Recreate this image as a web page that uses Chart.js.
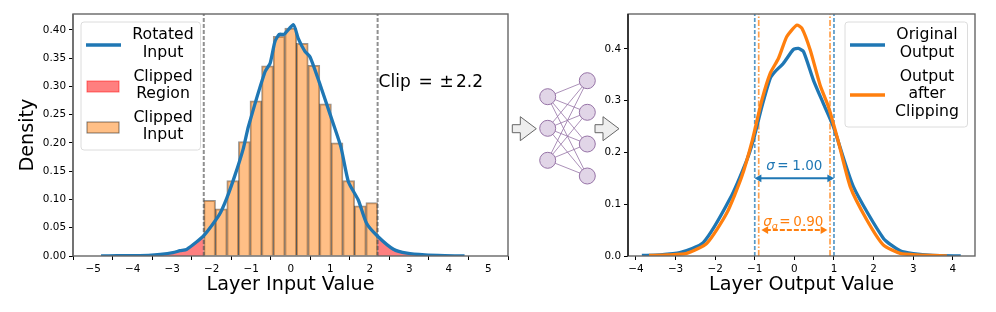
<!DOCTYPE html>
<html>
<head>
<meta charset="utf-8">
<script src="https://cdn.jsdelivr.net/npm/chart.js@4"></script>
<style>
  html, body { margin: 0; padding: 0; background: #fff; }
  #page { position: relative; width: 996px; height: 312px; overflow: hidden; }
  canvas, svg { position: absolute; top: 0; }
  #inputChart { left: 0; }
  #outputChart { left: 600px; }
  #net { left: 505px; }
</style>
</head>
<body>
<div id="page">
  <canvas id="inputChart" width="520" height="312"></canvas>
  <svg id="net" width="120" height="312"></svg>
  <canvas id="outputChart" width="396" height="312"></canvas>
</div>
<script>
const binCenters = [-2.053, -1.76, -1.467, -1.173, -0.88, -0.587, -0.293, 0, 0.293, 0.587, 0.88, 1.173, 1.467, 1.76, 2.053];
const binDensity = [0.098, 0.083, 0.133, 0.202, 0.274, 0.336, 0.388, 0.403, 0.376, 0.337, 0.269, 0.2, 0.133, 0.0885, 0.094];

const inputX = [-4.8, -4.4, -4, -3.6, -3.3, -2.98, -2.8, -2.63, -2.2, -1.81, -1.62, -1.41, -1.2, -1.07, -0.65, -0.52, -0.4, -0.29, -0.17, 0.07, 0.19, 0.36, 0.49, 0.72, 1.0, 1.27, 1.46, 1.71, 1.92, 2.2, 2.6, 2.94, 3.4, 3.9, 4.4];
const inputY = [0.0002, 0.0004, 0.0007, 0.0012, 0.0027, 0.0058, 0.0094, 0.0118, 0.036, 0.0726, 0.102, 0.143, 0.19, 0.229, 0.326, 0.341, 0.379, 0.392, 0.392, 0.409, 0.385, 0.362, 0.352, 0.308, 0.25, 0.193, 0.1315, 0.099, 0.058, 0.035, 0.012, 0.005, 0.0018, 0.0006, 0.0002];

const outBlueX = [-3.85, -3.4, -2.89, -2.3, -1.62, -1.2, -1.035, -0.82, -0.61, -0.49, -0.28, -0.025, 0.1, 0.23, 0.48, 0.73, 0.985, 1.49, 2.25, 2.67, 3, 3.5, 4.2];
const outBlueY = [0.001, 0.002, 0.0064, 0.0258, 0.1114, 0.1855, 0.224, 0.2886, 0.343, 0.356, 0.372, 0.399, 0.401, 0.395, 0.34, 0.295, 0.25, 0.134, 0.034, 0.01, 0.0045, 0.0012, 0.0002];

const outOrangeX = [-3.67, -3.2, -2.72, -2.21, -1.71, -1.33, -1.06, -0.82, -0.61, -0.4, -0.19, 0.06, 0.19, 0.4, 0.65, 0.86, 1.1, 1.41, 1.83, 2.25, 2.67, 3.1, 3.85];
const outOrangeY = [0.001, 0.002, 0.005, 0.0245, 0.0824, 0.153, 0.224, 0.3014, 0.353, 0.382, 0.424, 0.446, 0.44, 0.398, 0.33, 0.2886, 0.224, 0.134, 0.0696, 0.021, 0.005, 0.002, 0.0002];

const clipLimits = [-2.2, 2.2];
const sigmaLimits = [-1, 1];
const sigmaClipLimits = [-0.9, 0.9];
const sigmaArrow = [-0.89, 0.89];
const sigmaClipArrow = [-0.72, 0.72];

const inputXTicks = [-5, -4, -3, -2, -1, 0, 1, 2, 3, 4, 5];
const inputYTicks = [0, 0.05, 0.1, 0.15, 0.2, 0.25, 0.3, 0.35, 0.4];
const outputXTicks = [-4, -3, -2, -1, 0, 1, 2, 3, 4];
const outputYTicks = [0, 0.1, 0.2, 0.3, 0.4];

const BLUE = "#1f77b4";
const ORANGE = "#ff7f0e";
const FONT = "'DejaVu Sans'";

Chart.defaults.font.family = FONT;
Chart.defaults.color = "#000";

const zip = (xs, ys) => xs.map((x, i) => ({ x: x, y: ys[i] }));
const minus = (s) => String(s).replace("-", "\u2212");

// frame all round the axes, matplotlib style
function frame(leftColor) {
  return {
    id: "frame",
    afterDatasetsDraw(chart) {
      const a = chart.chartArea;
      const c = chart.ctx;
      c.save();
      c.strokeStyle = "#666";
      c.lineWidth = 1.4;
      c.strokeRect(a.left, a.top, a.right - a.left, a.bottom - a.top);
      c.strokeStyle = leftColor;
      c.beginPath();
      c.moveTo(a.left, a.top);
      c.lineTo(a.left, a.bottom);
      c.stroke();
      c.restore();
    },
  };
}

// legend sits inside the axes, so it is drawn here
function boxLegend(box, textX, items) {
  return {
    id: "boxLegend",
    afterDraw(chart) {
      const c = chart.ctx;
      c.save();
      c.beginPath();
      c.roundRect(box.x, box.y, box.w, box.h, 3);
      c.fillStyle = "rgba(255,255,255,0.8)";
      c.fill();
      c.strokeStyle = "#dcdcdc";
      c.lineWidth = 1;
      c.stroke();
      c.font = "15.7px " + FONT;
      c.textAlign = "center";
      c.textBaseline = "middle";
      c.fillStyle = "#000";
      items.forEach((it) => {
        it.lines.forEach((t, i) => c.fillText(t, textX, it.top + i * 17.7));
        if (it.patch) {
          c.fillStyle = it.patch;
          c.strokeStyle = it.edge;
          c.lineWidth = 1;
          c.fillRect(box.x + 6, it.handleY - 5.5, 32, 11);
          c.strokeRect(box.x + 6, it.handleY - 5.5, 32, 11);
          c.fillStyle = "#000";
        } else {
          c.strokeStyle = it.line;
          c.lineWidth = 3.5;
          c.beginPath();
          c.moveTo(box.x + 5, it.handleY);
          c.lineTo(box.x + 40, it.handleY);
          c.stroke();
        }
      });
      c.restore();
    },
  };
}

function axes(xMin, xMax, yMax, xTicks, yTicks, xTitle, yTitle, yWidth, yDigits) {
  return {
    x: {
      type: "linear",
      min: xMin,
      max: xMax,
      offset: false,
      afterFit: (s) => { s.height = 56; },
      afterBuildTicks: (s) => { s.ticks = xTicks.map((v) => ({ value: v })); },
      grid: { drawOnChartArea: false, drawTicks: true, tickLength: 4, color: "#000" },
      border: { display: false },
      ticks: { font: { size: 10.4 }, padding: 3, maxRotation: 0, autoSkip: false, callback: (v) => minus(v) },
      title: { display: true, text: xTitle, font: { size: 19.2 }, padding: { top: 0, bottom: 15 } },
    },
    y: {
      min: 0,
      max: yMax,
      afterFit: (s) => { s.width = yWidth; },
      afterBuildTicks: (s) => { s.ticks = yTicks.map((v) => ({ value: v })); },
      grid: { drawOnChartArea: false, drawTicks: true, tickLength: 4, color: "#000" },
      border: { display: false },
      ticks: { font: { size: 10.4 }, padding: 3, autoSkip: false, callback: (v) => v.toFixed(yDigits) },
      title: { display: !!yTitle, text: yTitle, font: { size: 19.2 }, padding: { top: 16, bottom: 0 } },
    },
  };
}

const inputMax = 0.428;
const inputLabels = {
  id: "inputLabels",
  afterDraw(chart) {
    const c = chart.ctx;
    c.save();
    c.font = "17px " + FONT;
    c.fillStyle = "#000";
    c.textBaseline = "alphabetic";
    c.fillText("Clip", chart.scales.x.getPixelForValue(2.2) + 1, 87);
    c.fillText("=", 418.5, 87);
    c.fillText("\u00b1", 439.5, 87);
    c.fillText("2.2", 456, 87);
    c.restore();
  },
};

new Chart(document.getElementById("inputChart"), {
  data: {
    datasets: [
      {
        type: "bar",
        data: zip(binCenters, binDensity),
        backgroundColor: "rgba(255,127,14,0.5)",
        borderColor: "rgba(0,0,0,0.42)",
        borderWidth: 1,
        inflateAmount: 0.5,
        barPercentage: 1,
        categoryPercentage: 1,
        order: 5,
      },
      {
        type: "line",
        data: zip(inputX, inputY).filter((p) => p.x <= clipLimits[0]),
        borderWidth: 0,
        pointRadius: 0,
        fill: "origin",
        backgroundColor: "rgba(255,0,0,0.5)",
        tension: 0.2,
        order: 4,
      },
      {
        type: "line",
        data: zip(inputX, inputY).filter((p) => p.x >= clipLimits[1]),
        borderWidth: 0,
        pointRadius: 0,
        fill: "origin",
        backgroundColor: "rgba(255,0,0,0.5)",
        tension: 0.2,
        order: 4,
      },
      ...clipLimits.map((v) => ({
        type: "line",
        data: [{ x: v, y: 0 }, { x: v, y: inputMax }],
        borderColor: "rgba(70,70,70,0.6)",
        borderWidth: 2,
        borderDash: [4, 2],
        pointRadius: 0,
        order: 3,
      })),
      {
        type: "line",
        data: zip(inputX, inputY),
        borderColor: BLUE,
        borderWidth: 3.3,
        pointRadius: 0,
        tension: 0.2,
        order: 1,
      },
    ],
  },
  options: {
    responsive: false,
    animation: false,
    layout: { padding: { top: 14, right: 12, left: 0, bottom: 0 } },
    plugins: { legend: { display: false }, tooltip: { enabled: false } },
    scales: axes(-5.51, 5.5, inputMax, inputXTicks, inputYTicks, "Layer Input Value", "Density", 73, 2),
  },
  plugins: [
    frame("#666"),
    inputLabels,
    boxLegend({ x: 81, y: 22, w: 119.5, h: 128 }, 163, [
      { lines: ["Rotated", "Input"], top: 35, handleY: 45, line: BLUE },
      { lines: ["Clipped", "Region"], top: 76.5, handleY: 86.5, patch: "rgba(255,0,0,0.5)", edge: "rgba(255,0,0,0.5)" },
      { lines: ["Clipped", "Input"], top: 117.5, handleY: 127.5, patch: "rgba(255,127,14,0.5)", edge: "rgba(0,0,0,0.5)" },
    ]),
  ],
});

const outputMax = 0.4676;
const outputLabels = {
  id: "outputLabels",
  afterDraw(chart) {
    const c = chart.ctx;
    const cx = chart.scales.x.getPixelForValue(0);
    c.save();
    c.textBaseline = "alphabetic";
    c.textAlign = "left";
    c.fillStyle = BLUE;
    c.font = "italic 13.5px " + FONT;
    c.fillText("\u03c3", cx - 28, 170);
    c.font = "13.5px " + FONT;
    c.fillText("=", cx - 17, 170);
    c.fillText("1.00", cx - 2, 170);
    c.fillStyle = ORANGE;
    c.font = "italic 13.5px " + FONT;
    c.fillText("\u03c3", cx - 31, 226);
    c.font = "italic 9.5px " + FONT;
    c.fillText("q", cx - 22.5, 229);
    c.font = "13.5px " + FONT;
    c.fillText("=", cx - 15, 226);
    c.fillText("0.90", cx - 1, 226);
    c.restore();
  },
};

const vline = (v, color, dash) => ({
  type: "line",
  data: [{ x: v, y: 0 }, { x: v, y: outputMax }],
  borderColor: color,
  borderWidth: 1.7,
  borderDash: dash,
  pointRadius: 0,
  order: 3,
});

const arrow = (xs, y, color, dash) => ({
  type: "line",
  data: xs.map((x) => ({ x: x, y: y })),
  borderColor: color,
  backgroundColor: color,
  borderWidth: 2,
  borderDash: dash,
  pointStyle: "triangle",
  pointRadius: 4.5,
  pointRotation: [-90, 90],
  pointBorderWidth: 0,
  order: 0,
});

new Chart(document.getElementById("outputChart"), {
  data: {
    datasets: [
      ...sigmaLimits.map((v) => vline(v, "rgba(31,119,180,0.75)", [4, 2])),
      ...sigmaClipLimits.map((v) => vline(v, "rgba(255,127,14,0.75)", [6, 2, 1.5, 2])),
      {
        type: "line",
        data: zip(outBlueX, outBlueY),
        borderColor: BLUE,
        borderWidth: 3.3,
        pointRadius: 0,
        tension: 0.2,
        order: 2,
      },
      {
        type: "line",
        data: zip(outOrangeX, outOrangeY),
        borderColor: ORANGE,
        borderWidth: 3.3,
        pointRadius: 0,
        tension: 0.2,
        order: 1,
      },
      arrow(sigmaArrow, 0.15, BLUE, []),
      arrow(sigmaClipArrow, 0.05, ORANGE, [5, 2]),
    ],
  },
  options: {
    responsive: false,
    animation: false,
    layout: { padding: { top: 14, right: 21, left: 0, bottom: 0 } },
    plugins: { legend: { display: false }, tooltip: { enabled: false } },
    scales: axes(-4.2, 4.56, outputMax, outputXTicks, outputYTicks, "Layer Output Value", "", 28, 1),
  },
  plugins: [
    frame("#111"),
    outputLabels,
    boxLegend({ x: 245, y: 22, w: 122.5, h: 105 }, 327, [
      { lines: ["Original", "Output"], top: 35, handleY: 45, line: BLUE },
      { lines: ["Output", "after", "Clipping"], top: 76.5, handleY: 95, line: ORANGE },
    ]),
  ],
});

// network sketch between the two panels, it is not data
const netLeft = [96.7, 128.3, 160.3];
const netRight = [80.7, 112.3, 144, 176];
const lx = 42.7, rx = 82.3;
let svg = "";
netLeft.forEach((a) => netRight.forEach((b) => {
  svg += `<line x1="${lx}" y1="${a}" x2="${rx}" y2="${b}" stroke="#9673a6" stroke-width="0.8"/>`;
}));
netLeft.forEach((y) => { svg += `<circle cx="${lx}" cy="${y}" r="8" fill="#e1d5e7" stroke="#9673a6"/>`; });
netRight.forEach((y) => { svg += `<circle cx="${rx}" cy="${y}" r="8" fill="#e1d5e7" stroke="#9673a6"/>`; });
[7.3, 90].forEach((x) => {
  svg += `<path transform="translate(${x},128.7)" d="M0,-4 H8 V-12 L24,0 L8,12 V4 H0 Z" fill="#eeeeee" stroke="#666666"/>`;
});
document.getElementById("net").innerHTML = svg;
</script>
</body>
</html>
